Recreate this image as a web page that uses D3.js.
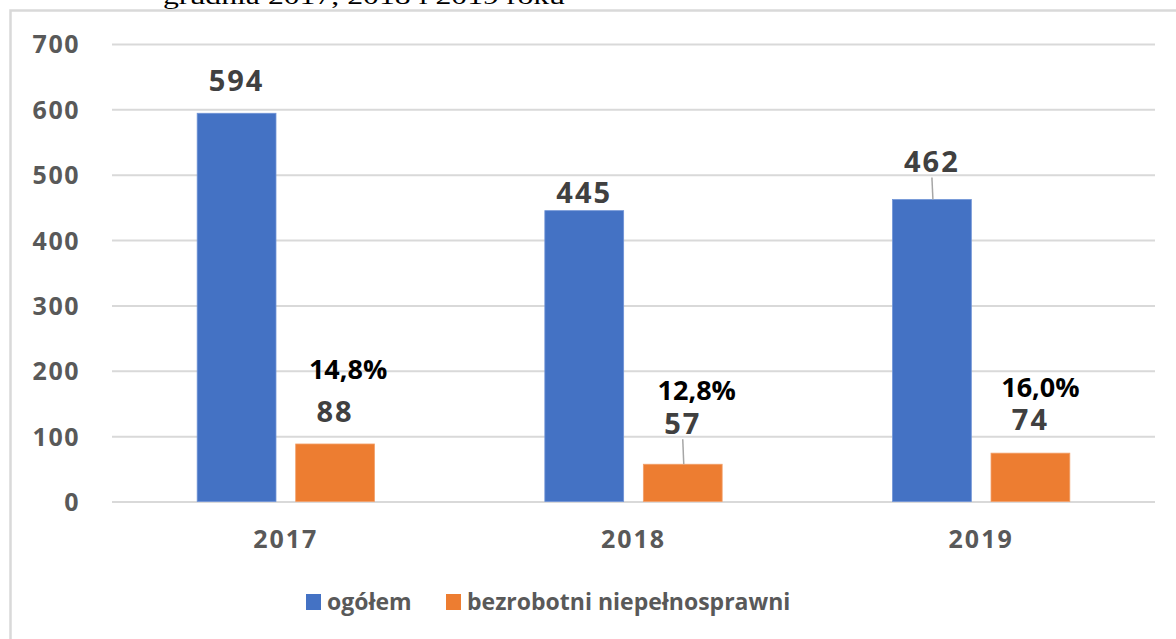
<!DOCTYPE html>
<html>
<head>
<meta charset="utf-8">
<script src="https://cdn.jsdelivr.net/npm/d3@7"></script>
<style>
  html, body { margin: 0; padding: 0; background: #fff; }
  svg { display: block; }
</style>
</head>
<body>
<svg id="chart" width="1176" height="639"></svg>
<script>
// ---- data ----
const categories = ["2017", "2018", "2019"];
const seriesNames = ["ogółem", "bezrobotni niepełnosprawni"];
const ogolem = [594, 445, 462];
const niepelnosprawni = [88, 57, 74];
const shareLabels = ["14,8%", "12,8%", "16,0%"];
const yTicks = [0, 100, 200, 300, 400, 500, 600, 700];
const titleText = "grudnia 2017, 2018 i 2019 roku";

// ---- layout / style ----
const colors = ["#4472C4", "#ED7D31"];
const W = 1176, H = 639;
const plot = { left: 112, right: 1155, top: 44, bottom: 501.5 };
// manual label nudges (px, label centre relative to bar top)
const labelDy = [[-33, -18, -38], [-32.5, -41, -33]];
const leader = [[false, false, true], [false, true, false]];
const shareDx = [13, 14, 10];
const shareDy = [-42, -33, -33];

const svg = d3.select("#chart");
const font = "'Open Sans', 'DejaVu Sans', sans-serif";

// clipped title remnant at top
svg.append("text")
  .attr("x", 163).attr("y", 4)
  .attr("font-family", "'Liberation Serif', 'DejaVu Serif', serif")
  .attr("font-size", 24)
  .attr("textLength", 402).attr("lengthAdjust", "spacingAndGlyphs")
  .attr("fill", "#000")
  .text(titleText);

// chart frame
svg.append("rect")
  .attr("x", 10.5).attr("y", 10.5)
  .attr("width", W + 20).attr("height", H + 20)
  .attr("fill", "none").attr("stroke", "#d9d9d9").attr("stroke-width", 2.5);

const y = d3.scaleLinear().domain([0, 700]).range([plot.bottom, plot.top]);
const x0 = d3.scaleBand().domain(categories).range([plot.left, plot.right])
  .paddingInner(0.49).paddingOuter(0.245);
const x1 = d3.scaleBand().domain(seriesNames).range([0, x0.bandwidth()])
  .paddingInner(0.2);

// gridlines
const yAxis = d3.axisLeft(y).tickValues(yTicks)
  .tickSize(-(plot.right - plot.left)).tickPadding(32).tickFormat(d3.format("d"));
const gAxis = svg.append("g").attr("transform", `translate(${plot.left},0)`).call(yAxis);
gAxis.select(".domain").remove();
gAxis.selectAll(".tick line").attr("stroke", "#d9d9d9").attr("stroke-width", 2);
gAxis.selectAll(".tick text")
  .attr("font-family", font).attr("font-weight", 700).attr("font-size", 25)
  .attr("letter-spacing", 1.5)
  .attr("fill", "#595959").attr("dy", "0.357em");

// x axis labels
const xAxis = d3.axisBottom(x0).tickSize(0).tickPadding(38);
const gx = svg.append("g").attr("transform", `translate(0,${plot.bottom})`).call(xAxis);
gx.select(".domain").remove();
gx.selectAll(".tick text")
  .attr("font-family", font).attr("font-weight", 700).attr("font-size", 25)
  .attr("letter-spacing", 2)
  .attr("fill", "#595959").attr("dy", "0.357em").attr("y", 38);

const series = [ogolem, niepelnosprawni];
series.forEach((vals, si) => {
  const g = svg.append("g");
  g.selectAll("rect").data(vals).join("rect")
    .attr("x", (d, i) => x0(categories[i]) + x1(seriesNames[si]))
    .attr("y", d => y(d))
    .attr("width", x1.bandwidth())
    .attr("height", d => y(0) - y(d))
    .attr("fill", colors[si])
    .attr("stroke", si === 0 ? "#6f93d6" : "#f2a06a").attr("stroke-width", 0.8);

  vals.forEach((d, i) => {
    const cx = x0(categories[i]) + x1(seriesNames[si]) + x1.bandwidth() / 2;
    const cy = y(d) + labelDy[si][i];
    if (leader[si][i]) {
      g.append("line")
        .attr("x1", cx).attr("y1", cy + 16)
        .attr("x2", cx + 1).attr("y2", y(d))
        .attr("stroke", "#a6a6a6").attr("stroke-width", 1.5);
    }
    g.append("text")
      .attr("x", cx).attr("y", cy).attr("dy", "0.357em")
      .attr("text-anchor", "middle")
      .attr("font-family", font).attr("font-weight", 700).attr("font-size", 29)
      .attr("letter-spacing", 2)
      .attr("fill", "#404040")
      .text(d);
    if (si === 1) {
      g.append("text")
        .attr("x", cx + shareDx[i]).attr("y", cy + shareDy[i]).attr("dy", "0.357em")
        .attr("text-anchor", "middle")
        .attr("font-family", font).attr("font-weight", 700).attr("font-size", 27)
        .attr("fill", "#000")
        .text(shareLabels[i]);
    }
  });
});

// legend
const legend = svg.append("g");
const legX = [306, 446];
seriesNames.forEach((name, i) => {
  legend.append("rect")
    .attr("x", legX[i]).attr("y", 594).attr("width", 15).attr("height", 16)
    .attr("fill", colors[i]);
  legend.append("text")
    .attr("x", legX[i] + 21).attr("y", 610)
    .attr("font-family", font).attr("font-weight", 700).attr("font-size", 23)
    .attr("fill", "#595959")
    .text(name);
});
</script>
</body>
</html>
